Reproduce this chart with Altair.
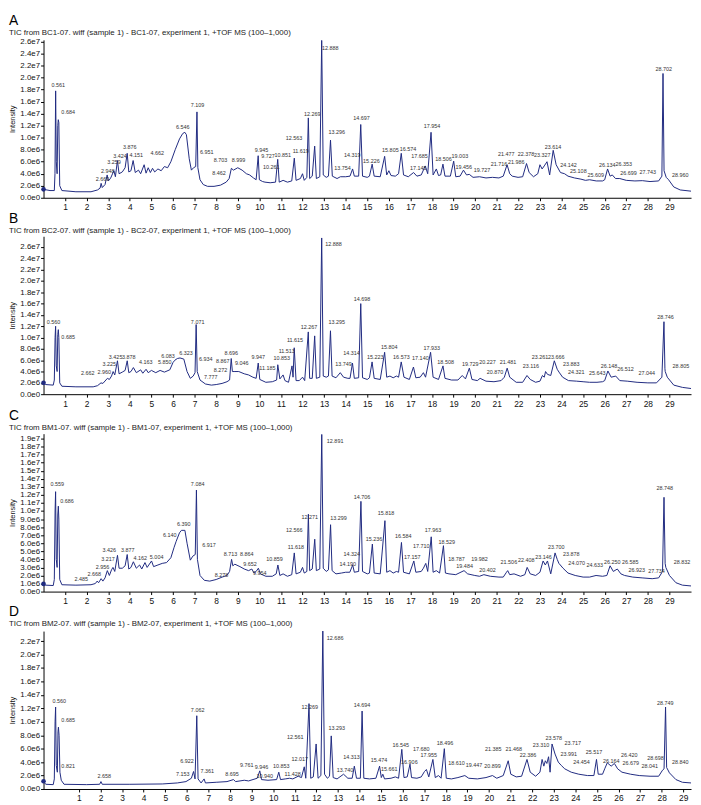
import altair as alt
import pandas as pd

FONT = "Liberation Sans"
LINE_COLOR = "#1f2a80"

TITLES = [
    "TIC from BC1-07. wiff (sample 1) - BC1-07, experiment 1, +TOF MS (100–1,000)",
    "TIC from BC2-07. wiff (sample 1) - BC2-07, experiment 1, +TOF MS (100–1,000)",
    "TIC from BM1-07. wiff (sample 1) - BM1-07, experiment 1, +TOF MS (100–1,000)",
    "TIC from BM2-07. wiff (sample 1) - BM2-07, experiment 1, +TOF MS (100–1,000)",
]
LETTERS = ["A", "B", "C", "D"]
X_TICKS = list(range(1, 30))

# ---------------- Panel A (intensity in units of 1e6) ----------------
A_TIME = [0.0, 0.3, 0.5, 0.53, 0.561, 0.59, 0.63, 0.66, 0.684, 0.71, 0.75, 0.85, 1.5, 2.2, 2.5, 2.62, 2.669, 2.72,
          2.85, 2.948, 3.0, 3.1, 3.259, 3.33, 3.424, 3.5, 3.65, 3.78, 3.876, 3.95, 4.05, 4.151, 4.25, 4.4, 4.5,
          4.662, 4.75, 4.85, 4.95, 5.05, 5.15, 5.3, 5.45, 5.6, 5.75, 5.9, 6.1, 6.3, 6.45, 6.546, 6.62, 6.75, 6.85,
          6.951, 7.05, 7.109, 7.15, 7.25, 7.4, 7.6, 7.9, 8.2, 8.462, 8.6, 8.703, 8.8, 8.999, 9.2, 9.4, 9.55, 9.727,
          9.85, 9.945, 10.0, 10.15, 10.261, 10.5, 10.75, 10.851, 10.92, 11.1, 11.3, 11.5, 11.619, 11.7, 11.9, 12.0,
          12.08, 12.2, 12.269, 12.33, 12.45, 12.563, 12.64, 12.8, 12.888, 12.96, 13.1, 13.2, 13.296, 13.38, 13.6,
          13.754, 14.0, 14.2, 14.319, 14.4, 14.6, 14.697, 14.78, 15.0, 15.1, 15.226, 15.32, 15.6, 15.805, 15.9, 16.0,
          16.1, 16.3, 16.45, 16.574, 16.68, 16.9, 17.145, 17.3, 17.5, 17.685, 17.8, 17.954, 18.05, 18.2, 18.3, 18.4,
          18.506, 18.6, 18.85, 19.003, 19.1, 19.3, 19.456, 19.6, 19.727, 19.9, 20.2, 20.5, 20.8, 21.1, 21.3, 21.477,
          21.6, 21.716, 21.986, 22.2, 22.378, 22.5, 22.7, 22.9, 23.0, 23.1, 23.2, 23.327, 23.45, 23.614, 23.75,
          23.95, 24.142, 24.3, 24.6, 24.9, 25.108, 25.3, 25.609, 25.9, 26.0, 26.134, 26.25, 26.353, 26.5, 26.699,
          27.0, 27.4, 27.743, 28.1, 28.5, 28.65, 28.702, 28.75, 28.85, 28.96, 29.2, 29.5, 30.0]
A_TIC = [1.4, 1.2, 1.2, 4.0, 17.8, 6.0, 4.0, 12.0, 13.0, 12.5, 2.0, 1.2, 1.0, 1.0, 1.3, 1.6, 2.4, 1.7,
         2.2, 3.8, 2.8, 3.2, 4.5, 3.5, 6.2, 4.0, 4.3, 5.0, 7.4, 4.3, 4.5, 6.2, 4.2, 4.6, 4.0,
         5.5, 4.1, 5.0, 4.2, 4.9, 4.3, 4.8, 4.5, 5.2, 5.0, 6.0, 8.0, 9.8, 10.7, 10.9, 10.5, 6.5, 4.6,
         5.0, 5.2, 14.3, 5.0, 3.0, 2.2, 1.9, 1.9, 2.1, 2.6, 3.2, 4.9, 4.6, 5.0, 4.6, 4.0, 3.8, 3.3,
         3.0, 7.0, 3.0, 2.7, 2.6, 2.5, 2.6, 6.4, 2.6, 2.9, 2.6, 2.8, 6.6, 2.9, 3.2, 4.0,
         2.9, 3.4, 13.3, 3.2, 3.6, 8.6, 3.2, 3.5, 26.2, 3.8, 3.4, 3.6, 9.6, 3.6, 3.2,
         3.5, 3.5, 3.6, 4.8, 3.6, 3.6, 12.2, 3.6, 3.4, 3.6, 5.6, 3.6, 3.5, 6.9, 3.8, 4.5,
         3.7, 3.6, 4.0, 7.4, 3.8, 3.5, 4.2, 3.6, 3.8, 5.3, 4.0, 10.9, 3.8, 4.8, 3.7, 3.8,
         5.6, 3.6, 3.6, 6.1, 3.5, 3.6, 4.6, 3.8, 3.9, 3.4, 3.5, 3.3, 3.4, 3.3, 3.6, 5.5,
         4.0, 3.6, 3.4, 3.5, 5.7, 4.2, 3.5, 4.0, 5.5, 4.8, 5.3, 6.0, 3.8, 7.9, 5.5,
         4.2, 4.0, 3.6, 3.3, 3.1, 2.9, 3.0, 2.8, 2.8, 3.0, 4.8, 3.6, 3.8, 3.2, 3.2,
         2.9, 2.8, 2.85, 2.7, 2.8, 3.6, 20.7, 4.5, 3.4, 3.0, 1.8, 1.3, 1.1]
A_PEAK_TEXT = ["0.561", "0.684", "2.669", "2.948", "3.259", "3.424", "3.876", "4.151", "4.662", "6.546", "7.109",
               "6.951", "8.462", "8.703", "8.999", "9.945", "9.727", "10.261", "10.851", "11.619", "12.563",
               "12.269", "12.888", "13.296", "13.754", "14.319", "14.697", "15.226", "15.805", "16.574", "17.145",
               "17.685", "17.954", "18.506", "19.003", "19.456", "19.727", "21.716", "21.477", "21.986", "22.378",
               "23.327", "23.614", "24.142", "25.108", "25.609", "26.134", "26.353", "26.699", "27.743", "28.702",
               "28.960"]
A_PEAK_X = [0.68, 1.14, 2.73, 2.98, 3.26, 3.54, 4.0, 4.3, 5.27, 6.45, 7.13,
            7.56, 8.13, 8.2, 9.03, 10.1, 10.4, 10.55, 11.08, 11.92, 11.6,
            12.45, 13.28, 13.59, 13.85, 14.3, 14.73, 15.19, 16.07, 16.89, 17.36,
            17.42, 18.0, 18.53, 19.29, 19.47, 20.32, 21.1, 21.44, 21.9, 22.35,
            23.11, 23.61, 24.32, 24.78, 25.59, 26.12, 26.88, 27.1, 28.0, 28.74,
            29.5]
A_PEAK_Y = [18.7, 14.2, 3.1, 4.5, 6.0, 6.9, 8.4, 7.2, 7.5, 11.8, 15.4,
            7.6, 4.1, 6.3, 6.3, 8.0, 6.9, 5.2, 7.2, 7.7, 10.0,
            14.0, 24.9, 10.9, 5.0, 7.2, 13.2, 6.2, 7.9, 8.1, 4.9,
            6.9, 11.9, 6.4, 7.0, 5.1, 4.6, 5.6, 7.3, 5.9, 7.3,
            7.2, 8.5, 5.5, 4.4, 3.8, 5.4, 5.6, 4.2, 4.35, 21.4,
            3.85]

# ---------------- Panel B ----------------
B_TIME = [0.0, 0.1, 0.45, 0.5, 0.535, 0.56, 0.59, 0.63, 0.66, 0.685, 0.71, 0.75, 0.85, 1.5, 2.3, 2.5, 2.662, 2.75,
          2.96, 3.05, 3.15, 3.225, 3.3, 3.425, 3.5, 3.65, 3.78, 3.878, 3.95, 4.05, 4.163, 4.3, 4.5, 4.6, 4.75,
          4.85, 5.0, 5.2, 5.4, 5.6, 5.85, 6.0, 6.083, 6.2, 6.323, 6.5, 6.65, 6.8, 6.934, 7.02, 7.071, 7.12, 7.25,
          7.5, 7.777, 8.0, 8.272, 8.5, 8.62, 8.696, 8.75, 8.867, 9.046, 9.3, 9.5, 9.7, 9.85, 9.947, 10.02, 10.3,
          10.6, 10.8, 10.853, 10.95, 11.1, 11.185, 11.35, 11.513, 11.56, 11.615, 11.7, 11.85, 12.0, 12.1, 12.267,
          12.33, 12.45, 12.563, 12.64, 12.8, 12.888, 12.96, 13.1, 13.2, 13.295, 13.37, 13.55, 13.749, 13.9, 14.1,
          14.2, 14.314, 14.4, 14.6, 14.698, 14.78, 15.0, 15.1, 15.223, 15.32, 15.6, 15.804, 15.9, 16.05, 16.2,
          16.35, 16.45, 16.573, 16.7, 16.95, 17.14, 17.25, 17.45, 17.6, 17.7, 17.933, 18.05, 18.3, 18.508, 18.6,
          18.9, 19.2, 19.4, 19.55, 19.729, 19.85, 20.1, 20.227, 20.5, 20.87, 21.2, 21.35, 21.481, 21.6, 21.9,
          22.2, 22.4, 22.55, 22.8, 23.0, 23.116, 23.2, 23.261, 23.35, 23.5, 23.666, 23.8, 23.883, 24.05, 24.321,
          24.7, 25.0, 25.3, 25.643, 25.9, 26.0, 26.148, 26.3, 26.512, 26.7, 27.044, 27.5, 28.0, 28.4, 28.65,
          28.746, 28.79, 28.805, 28.9, 29.2, 29.6, 30.0]
B_TIC = [2.0, 1.7, 1.6, 2.5, 10.0, 12.0, 5.0, 4.0, 10.5, 11.4, 10.0, 2.0, 1.4, 1.3, 1.3, 1.5, 2.0, 1.9,
         2.8, 2.6, 3.2, 4.0, 3.4, 5.9, 3.6, 3.9, 4.2, 5.9, 3.8, 4.0, 4.7, 3.8, 4.3, 3.7, 4.4,
         3.8, 4.2, 3.8, 4.2, 3.9, 4.3, 5.6, 6.0, 6.3, 6.4, 6.2, 4.0, 2.8, 3.2, 3.8, 12.3, 4.0, 2.5,
         1.8, 1.6, 1.7, 1.9, 2.2, 2.5, 6.3, 4.0, 4.0, 4.0, 3.6, 3.4, 3.0, 2.8, 5.5, 2.6, 2.1,
         2.2, 2.5, 5.2, 2.7, 3.4, 2.4, 2.1, 5.0, 3.0, 8.2, 2.4, 2.4, 3.0, 2.4, 11.0,
         2.8, 2.8, 10.3, 2.8, 3.0, 27.6, 3.2, 3.0, 3.2, 11.2, 3.2, 2.9, 3.8, 3.0, 2.8,
         2.8, 5.5, 2.8, 2.9, 16.0, 2.9, 2.6, 2.9, 5.7, 2.8, 2.6, 7.4, 3.0, 3.2, 2.9,
         3.2, 3.0, 5.7, 3.0, 2.6, 4.8, 2.9, 3.0, 3.8, 3.0, 7.4, 3.0, 2.6, 5.0, 2.8,
         2.5, 2.5, 3.3, 2.7, 4.6, 2.6, 2.4, 2.8, 2.3, 2.2, 2.4, 3.0, 4.6, 3.0, 2.1,
         2.1, 3.3, 2.6, 2.1, 2.3, 3.3, 3.0, 4.0, 3.5, 3.3, 5.9, 4.4, 3.9, 3.0, 2.4,
         2.3, 2.2, 2.1, 2.1, 2.2, 2.4, 4.1, 3.0, 3.2, 2.4, 2.3, 2.1, 2.0, 2.0, 3.0,
         12.8, 4.5, 4.0, 3.0, 1.6, 1.2, 1.0]
B_PEAK_TEXT = ["0.560", "0.685", "2.662", "2.960", "3.225", "3.425", "3.878", "4.163", "5.850", "6.083", "6.323",
               "6.934", "7.071", "7.777", "8.272", "8.867", "8.696", "9.046", "9.947", "11.185", "10.853", "11.513",
               "11.615", "12.267", "12.888", "13.295", "13.749", "14.314", "14.698", "15.223", "15.804", "16.573",
               "17.140", "17.933", "18.508", "19.729", "20.227", "20.870", "21.481", "23.116", "23.261", "23.666",
               "23.883", "24.321", "25.643", "26.148", "26.512", "27.044", "28.746", "28.805"]
B_PEAK_X = [0.46, 1.14, 2.05, 2.81, 3.04, 3.34, 3.95, 4.74, 5.62, 5.77, 6.6,
            7.52, 7.14, 7.75, 8.2, 8.3, 8.7, 9.18, 9.95, 10.37, 11.04, 11.27,
            11.65, 12.3, 13.44, 13.59, 13.9, 14.27, 14.76, 15.37, 16.02, 16.58,
            17.46, 17.99, 18.63, 19.77, 20.57, 20.92, 21.52, 22.58, 23.0, 23.76,
            24.45, 24.68, 25.66, 26.2, 26.96, 27.95, 28.82, 29.53]
B_PEAK_Y = [12.7, 10.1, 3.8, 4.0, 5.3, 6.6, 6.6, 5.6, 5.6, 6.8, 7.3,
            6.2, 12.7, 3.0, 4.2, 5.8, 7.2, 5.5, 6.6, 4.6, 6.4, 7.7,
            9.5, 11.8, 26.6, 12.8, 5.4, 7.2, 16.8, 6.6, 8.3, 6.6,
            6.3, 8.2, 5.7, 5.4, 5.6, 3.9, 5.6, 5.0, 6.6, 6.6,
            5.3, 3.9, 3.8, 4.9, 4.5, 3.8, 13.7, 5.0]

# ---------------- Panel C ----------------
C_TIME = [0.0, 0.1, 0.45, 0.5, 0.535, 0.559, 0.59, 0.63, 0.66, 0.686, 0.71, 0.75, 0.85, 1.5, 2.2, 2.4, 2.485, 2.55,
          2.668, 2.75, 2.85, 2.956, 3.05, 3.15, 3.217, 3.3, 3.426, 3.5, 3.65, 3.78, 3.877, 3.95, 4.05, 4.162, 4.3,
          4.45, 4.55, 4.7, 4.8, 5.004, 5.1, 5.3, 5.5, 5.7, 5.9, 6.05, 6.14, 6.3, 6.39, 6.55, 6.65, 6.8, 6.917,
          7.03, 7.084, 7.13, 7.25, 7.45, 7.7, 8.0, 8.278, 8.5, 8.62, 8.713, 8.77, 8.864, 9.1, 9.3, 9.5, 9.652, 9.75,
          9.85, 9.954, 10.05, 10.3, 10.6, 10.78, 10.859, 10.95, 11.1, 11.3, 11.5, 11.618, 11.7, 11.9, 12.0, 12.08,
          12.2, 12.271, 12.33, 12.45, 12.566, 12.64, 12.8, 12.891, 12.96, 13.1, 13.2, 13.299, 13.37, 13.55, 13.8,
          14.0, 14.19, 14.324, 14.4, 14.6, 14.706, 14.78, 15.0, 15.1, 15.236, 15.32, 15.6, 15.818, 15.9, 16.05,
          16.2, 16.35, 16.45, 16.584, 16.68, 16.95, 17.157, 17.25, 17.5, 17.6, 17.71, 17.8, 17.963, 18.05, 18.2,
          18.35, 18.529, 18.62, 18.787, 19.1, 19.484, 19.65, 19.982, 20.2, 20.402, 20.7, 21.1, 21.3, 21.45, 21.506,
          21.6, 21.8, 22.1, 22.3, 22.408, 22.55, 22.8, 23.0, 23.146, 23.25, 23.35, 23.5, 23.7, 23.8, 23.878, 24.07,
          24.3, 24.633, 25.0, 25.3, 25.6, 25.9, 26.1, 26.25, 26.4, 26.585, 26.75, 26.923, 27.3, 27.734, 28.2, 28.5,
          28.68, 28.748, 28.8, 28.832, 29.0, 29.3, 29.6, 30.0]
C_TIC = [0.95, 0.8, 0.75, 1.5, 10.0, 12.4, 4.0, 3.0, 9.5, 10.6, 9.0, 1.5, 0.85, 0.8, 0.85, 1.0, 1.3, 1.1,
         1.6, 1.3, 1.7, 2.6, 2.0, 2.7, 3.0, 2.5, 4.5, 2.9, 2.9, 3.2, 4.6, 2.8, 3.0, 3.7, 2.9,
         3.3, 2.8, 3.6, 3.0, 3.8, 3.1, 3.3, 3.5, 3.6, 4.2, 5.5, 6.2, 7.3, 7.6, 7.6, 6.0, 3.9, 4.4,
         4.6, 12.6, 4.0, 2.0, 1.4, 1.3, 1.5, 1.8, 2.0, 2.5, 4.0, 3.2, 3.4, 3.1, 2.8, 2.6, 2.8, 2.3,
         2.5, 2.9, 2.2, 1.9, 1.9, 2.2, 3.3, 2.0, 2.2, 1.9, 2.1, 4.8, 2.2, 2.4, 3.0, 2.3,
         2.5, 9.6, 2.6, 2.8, 6.5, 2.6, 2.8, 19.5, 2.9, 2.5, 2.7, 8.3, 2.6, 2.2, 2.3,
         2.4, 2.4, 3.3, 2.4, 2.5, 11.2, 2.5, 2.2, 2.3, 5.9, 2.3, 2.2, 8.8, 2.4, 2.6,
         2.3, 2.5, 2.4, 6.1, 2.4, 2.2, 3.8, 2.4, 2.5, 2.9, 3.5, 2.5, 6.8, 2.4, 2.6,
         2.3, 5.7, 2.3, 2.2, 2.1, 2.6, 2.2, 2.0, 1.9, 2.1, 1.9, 1.8, 1.8, 2.4, 2.6,
         2.1, 2.2, 1.9, 2.1, 3.0, 2.2, 2.0, 2.4, 3.8, 3.3, 3.8, 2.2, 4.8, 4.0, 3.5, 2.9,
         2.3, 2.0, 1.8, 1.8, 2.0, 1.9, 2.0, 3.2, 2.5, 2.8, 2.2, 2.0, 1.8, 1.7, 1.6, 1.7,
         2.5, 11.7, 3.5, 3.0, 2.0, 1.1, 0.8, 0.7]
C_PEAK_TEXT = ["0.559", "0.686", "2.485", "2.668", "2.956", "3.217", "3.426", "3.877", "4.162", "5.004", "6.140",
               "6.390", "7.084", "6.917", "8.278", "8.713", "8.864", "9.652", "9.954", "10.859", "11.618", "12.271",
               "12.566", "12.891", "13.299", "14.190", "14.324", "14.706", "15.236", "15.818", "16.584", "17.157",
               "17.710", "17.963", "18.529", "18.787", "19.484", "19.982", "20.402", "21.506", "22.408", "23.146",
               "23.700", "23.878", "24.070", "24.633", "26.250", "26.585", "26.923", "27.734", "28.748", "28.832"]
C_PEAK_X = [0.64, 1.09, 1.75, 2.35, 2.73, 2.99, 3.04, 3.9, 4.48, 5.24, 5.85,
            6.5, 7.14, 7.67, 8.25, 8.66, 9.42, 9.57, 10.02, 10.7, 11.69, 12.33,
            11.62, 13.51, 13.67, 14.1, 14.28, 14.76, 15.31, 15.87, 16.67, 17.08,
            17.5, 18.04, 18.68, 19.13, 19.51, 20.2, 20.57, 21.56, 22.37, 23.16,
            23.76, 24.45, 24.7, 25.54, 26.35, 27.18, 27.49, 28.4, 28.78, 29.58]
C_PEAK_Y = [13.3, 11.3, 1.5, 2.2, 3.1, 4.1, 5.1, 5.2, 4.2, 4.3, 7.0,
            8.4, 13.3, 5.8, 2.0, 4.6, 4.7, 3.4, 2.3, 4.1, 5.5, 9.2,
            7.6, 18.7, 9.1, 3.4, 4.7, 11.7, 6.5, 9.7, 6.9, 4.3,
            5.6, 7.6, 6.1, 4.1, 3.2, 4.0, 2.7, 3.7, 3.9, 4.3,
            5.5, 4.6, 3.5, 3.3, 3.7, 3.7, 2.7, 2.5, 12.9, 3.7]

# ---------------- Panel D ----------------
D_TIME = [0.0, 0.1, 0.45, 0.5, 0.535, 0.56, 0.59, 0.64, 0.67, 0.69, 0.72, 0.76, 0.821, 0.95, 2.0, 2.6, 2.66, 2.72,
          4.0, 5.5, 6.2, 6.6, 6.85, 6.95, 7.02, 7.1, 7.16, 7.3, 7.44, 7.5, 8.0, 8.5, 8.8, 8.9, 9.3, 9.5, 9.9,
          10.02, 10.1, 10.4, 10.8, 10.9, 10.98, 11.2, 11.4, 11.55, 11.8, 11.95, 12.08, 12.15, 12.3, 12.38, 12.5,
          12.63, 12.72, 12.85, 12.94, 13.02, 13.15, 13.25, 13.33, 13.42, 13.6, 13.9, 14.1, 14.3, 14.4, 14.5,
          14.68, 14.76, 14.84, 15.1, 15.4, 15.57, 15.65, 15.72, 15.8, 16.1, 16.3, 16.45, 16.6, 16.7, 16.85,
          16.98, 17.05, 17.3, 17.5, 17.65, 17.74, 17.85, 18.04, 18.15, 18.3, 18.42, 18.57, 18.66, 18.9, 19.2,
          19.52, 19.7, 20.1, 20.5, 20.8, 21.0, 21.3, 21.53, 21.65, 21.9, 22.15, 22.4, 22.55, 22.8, 23.0, 23.1,
          23.18, 23.25, 23.32, 23.4, 23.47, 23.56, 23.7, 23.85, 23.99, 24.15, 24.45, 24.8, 25.2, 25.5, 25.62,
          25.7, 25.9, 26.0, 26.12, 26.3, 26.45, 26.6, 26.8, 27.2, 27.6, 28.1, 28.5, 28.68, 28.75, 28.82, 28.87,
          29.0, 29.3, 29.6, 30.0]
D_TIC = [1.15, 0.7, 0.65, 1.5, 10.0, 12.2, 3.5, 2.5, 8.5, 9.2, 8.0, 2.5, 1.3, 0.7, 0.65, 0.7, 1.1, 0.7,
         0.7, 0.75, 0.9, 1.1, 1.6, 2.6, 1.5, 10.9, 1.5, 0.9, 1.5, 0.9, 1.0, 1.1, 1.4, 1.1, 1.3, 1.2, 1.6,
         2.7, 1.4, 1.3, 1.4, 2.5, 1.4, 1.5, 1.6, 1.5, 1.9, 1.7, 3.3, 1.6, 12.7, 1.6, 1.8,
         6.7, 1.6, 2.0, 23.5, 2.2, 1.6, 1.9, 7.9, 1.7, 1.5, 2.2, 1.6, 1.6, 3.4, 1.6,
         1.6, 11.6, 1.6, 1.5, 1.6, 3.4, 1.7, 2.2, 1.5, 1.6, 1.8, 1.6, 5.9, 1.7, 1.8,
         3.7, 1.7, 1.6, 1.8, 2.6, 2.9, 1.8, 4.4, 1.7, 2.0, 1.6, 6.0, 1.6, 1.5, 1.7,
         2.0, 1.6, 1.5, 1.7, 2.0, 1.6, 2.0, 4.2, 2.2, 1.8, 1.9, 4.4, 2.5, 1.9, 2.5, 4.4,
         3.4, 4.2, 3.8, 4.8, 2.5, 6.7, 5.2, 4.0, 3.5, 3.0, 2.5, 2.2, 2.0, 2.0, 4.4,
         2.2, 2.2, 3.0, 3.9, 3.4, 3.8, 3.0, 2.5, 2.2, 2.0, 1.9, 1.9, 2.8, 3.0, 12.2, 3.2,
         2.4, 1.4, 1.0, 0.9]
D_PEAK_TEXT = ["0.560", "0.685", "0.821", "2.658", "6.922", "7.153", "7.062", "7.361", "8.695", "9.761", "9.946",
               "10.940", "10.853", "11.428", "12.017", "12.269", "12.561", "12.686", "13.293", "13.740", "14.313",
               "14.694", "15.474", "15.661", "16.545", "16.906", "17.680", "17.955", "18.496", "18.610", "19.447",
               "20.899", "21.385", "21.468", "22.386", "23.310", "23.578", "23.717", "23.991", "24.454", "25.517",
               "26.164", "26.420", "26.679", "28.041", "28.698", "28.749", "28.840"]
D_PEAK_X = [0.73, 1.14, 1.14, 2.81, 6.65, 6.45, 7.14, 7.59, 8.73, 9.42, 10.1,
            10.25, 11.01, 11.54, 11.87, 12.33, 11.66, 13.51, 13.59, 13.97, 14.27,
            14.76, 15.54, 16.02, 16.55, 16.95, 17.5, 17.85, 18.6, 19.13, 19.94,
            20.8, 20.84, 21.79, 22.45, 23.05, 23.64, 24.52, 24.33, 24.93, 25.5,
            26.3, 27.14, 27.21, 28.09, 28.35, 28.81, 29.5]
D_PEAK_Y = [13.1, 10.3, 3.4, 2.0, 4.2, 2.3, 11.7, 2.6, 2.2, 3.6, 3.3,
            2.0, 3.4, 2.3, 4.5, 12.2, 7.8, 22.5, 9.0, 2.8, 4.7,
            12.5, 4.3, 3.0, 6.6, 4.0, 5.9, 5.0, 6.8, 3.8, 3.6,
            3.4, 6.0, 6.0, 5.0, 6.5, 7.6, 6.8, 5.2, 4.0, 5.5,
            4.1, 5.1, 3.8, 3.4, 4.6, 12.8, 4.0]

# per-panel y axes (millions)
Y_TOP = [26.3, 27.9, 19.6, 23.5]
Y_TICKS = [
    [0, 2, 4, 6, 8, 10, 12, 14, 16, 18, 20, 22, 24, 26],
    [0, 2, 4, 6, 8, 10, 12, 14, 16, 18, 20, 22, 24, 26],
    list(range(0, 20)),
    [0, 2, 4, 6, 8, 10, 12, 14, 16, 18, 20, 22],
]
X_TICK_SHIFT = [0.0, 0.0, 0.0, 0.64]   # panel D's printed time axis is offset

W = 656
H = 160

Y_LABEL = "replace(format(datum.value * 1000000, '.1e'), '+', '')"


def panel(i, t, v, ptxt, px, py):
    df = pd.DataFrame({"t": t, "v": v})
    lab = pd.DataFrame({"t": px, "v": py, "txt": ptxt})
    start = df.iloc[[0]]
    shift = X_TICK_SHIFT[i]
    xs = alt.Scale(domain=[0, 30], nice=False, zero=False)
    ys = alt.Scale(domain=[0, Y_TOP[i]], nice=False, zero=True)
    xaxis = alt.Axis(
        values=[k + shift for k in X_TICKS],
        labelExpr=f"'' + round(datum.value - {shift})",
        title=None, grid=False, tickSize=3, labelFontSize=8.5, labelPadding=2,
    )
    yaxis = alt.Axis(
        values=Y_TICKS[i], labelExpr=Y_LABEL, title="Intensity", grid=False,
        tickSize=3, labelFontSize=8, labelPadding=1, titleFontSize=7.5,
        titleFontWeight="normal", titlePadding=3,
    )
    enc_x = alt.X("t:Q", scale=xs, axis=xaxis)
    enc_y = alt.Y("v:Q", scale=ys, axis=yaxis)
    line = alt.Chart(df).mark_line(color=LINE_COLOR, strokeWidth=1).encode(x=enc_x, y=enc_y)
    dot = alt.Chart(start).mark_circle(color=LINE_COLOR, size=22, opacity=1).encode(x=enc_x, y=enc_y)
    text = alt.Chart(lab).mark_text(fontSize=5.5, color="#333333", font=FONT).encode(
        x=enc_x, y=enc_y, text="txt:N",
    )
    return alt.layer(line, dot, text).properties(
        width=W, height=H,
        title=alt.TitleParams(
            text=LETTERS[i], subtitle=TITLES[i], anchor="start", frame="bounds",
            fontSize=14, fontWeight="normal", font=FONT, color="#000000", lineHeight=12,
            subtitleFontSize=8, subtitleFont=FONT, subtitleColor="#222222", subtitleLineHeight=9,
            subtitlePadding=1, offset=1,
        ),
    )


chart = alt.vconcat(
    panel(0, A_TIME, A_TIC, A_PEAK_TEXT, A_PEAK_X, A_PEAK_Y),
    panel(1, B_TIME, B_TIC, B_PEAK_TEXT, B_PEAK_X, B_PEAK_Y),
    panel(2, C_TIME, C_TIC, C_PEAK_TEXT, C_PEAK_X, C_PEAK_Y),
    panel(3, D_TIME, D_TIC, D_PEAK_TEXT, D_PEAK_X, D_PEAK_Y),
    spacing=0,
).configure_view(stroke=None).configure_axis(
    labelFont=FONT, titleFont=FONT, domainColor="#000000", tickColor="#000000",
    labelColor="#111111", titleColor="#111111",
).properties(padding=0, background="white")

chart.save("out.html", embed_options={"renderer": "svg", "actions": False})
